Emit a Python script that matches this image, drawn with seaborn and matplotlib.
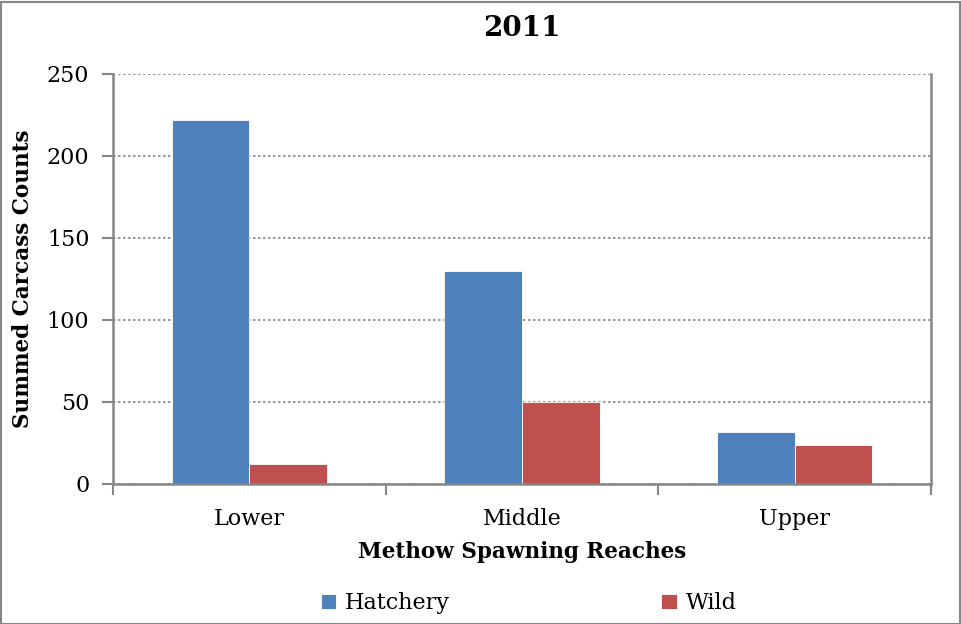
import matplotlib
matplotlib.use("Agg")
import matplotlib.pyplot as plt
import numpy as np
import pandas as pd
import seaborn as sns
from matplotlib.patches import Rectangle

reaches = ["Lower", "Middle", "Upper"]
hatchery = [222, 130, 32]
wild = [12, 50, 24]
origins = ["Hatchery", "Wild"]
colors = ["#4F81BD", "#C0504D"]

df = pd.DataFrame({
    "reach": reaches * 2,
    "origin": ["Hatchery"] * 3 + ["Wild"] * 3,
    "count": hatchery + wild,
})

sns.set_theme(style="white")
plt.rcParams["font.family"] = ["DejaVu Serif"]
plt.rcParams["text.color"] = "black"
plt.rcParams["axes.labelcolor"] = "black"
plt.rcParams["xtick.color"] = "black"
plt.rcParams["ytick.color"] = "black"
grey = "#868686"

fig = plt.figure(figsize=(9.61, 6.24), dpi=100)
ax = fig.add_axes([113 / 961, 1 - 484 / 624, (931 - 113) / 961, (484 - 74) / 624])

sns.barplot(data=df, x="reach", y="count", hue="origin", hue_order=origins,
            palette=colors, width=0.57, saturation=1, ax=ax,
            edgecolor="white", linewidth=0.6)

ax.set_xlim(-0.5, 2.5)
ax.set_ylim(0, 250)
ax.set_yticks(np.arange(0, 251, 50))
ax.yaxis.grid(True, linestyle=(0, (1.5, 1.5)), color=grey, linewidth=1.2)
ax.set_axisbelow(True)

for side in ["left", "bottom", "right"]:
    ax.spines[side].set_color(grey)
    ax.spines[side].set_linewidth(1.8)
ax.spines["top"].set_visible(False)

ax.tick_params(axis="y", which="major", length=8, width=1.5, color=grey,
               labelsize=16, pad=9, left=True, labelcolor="black")
ax.set_xticks([-0.5, 0.5, 1.5, 2.5], minor=True)
ax.tick_params(axis="x", which="minor", length=8, width=1.5, color=grey, bottom=True)
ax.tick_params(axis="x", which="major", length=0, labelsize=16, pad=17,
               labelcolor="black")

ax.set_xlabel("Methow Spawning Reaches", fontsize=15.5, fontweight="bold",
              labelpad=8, color="black")
ax.set_ylabel("Summed Carcass Counts", fontsize=15.5, fontweight="bold",
              labelpad=9, color="black")
ax.set_title("2011", fontsize=20, fontweight="bold", pad=27, color="black")

ax.legend(loc="upper center", bbox_to_anchor=(0.508, -0.215), ncol=2, frameon=False,
          fontsize=16, handlelength=0.7, handleheight=0.7, handletextpad=0.4,
          columnspacing=9.5)

fig.patches.append(Rectangle((0.001, 0.0), 0.998, 0.996, transform=fig.transFigure,
                             fill=False, edgecolor=grey, linewidth=1.5))

fig.savefig("out.png", dpi=100, facecolor="white")
